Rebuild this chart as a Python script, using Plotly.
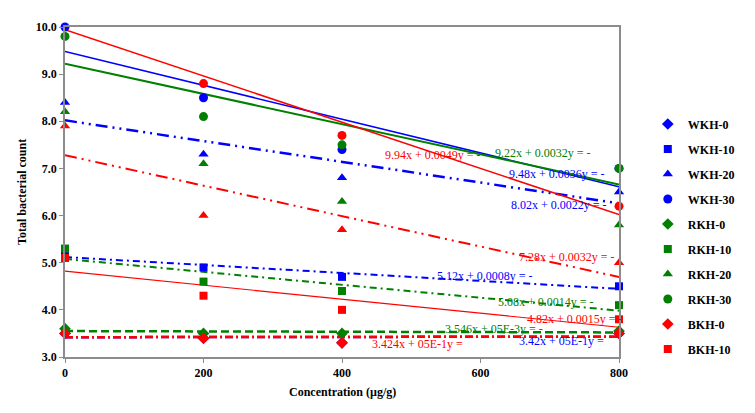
import numpy as np
import plotly.graph_objects as go

conc = [0, 200, 400, 800]

series_names = ["WKH-0", "WKH-10", "WKH-20", "WKH-30",
                "RKH-0", "RKH-10", "RKH-20", "RKH-30",
                "BKH-0", "BKH-10", "BKH-20", "BKH-30"]

wkh_0 = [3.5, 3.4, 3.3, 3.5]
wkh_10 = [5.2, 4.9, 4.7, 4.5]
wkh_20 = [8.4, 7.3, 6.8, 6.5]
wkh_30 = [10.0, 8.5, 7.4, 7.0]
rkh_0 = [3.6, 3.5, 3.5, 3.55]
rkh_10 = [5.3, 4.6, 4.4, 4.1]
rkh_20 = [8.2, 7.1, 6.3, 5.8]
rkh_30 = [9.8, 8.1, 7.5, 7.0]
bkh_0 = [3.5, 3.4, 3.3, 3.5]
bkh_10 = [5.1, 4.3, 4.0, 3.8]
bkh_20 = [7.9, 6.0, 5.7, 5.0]
bkh_30 = [10.2, 8.8, 7.7, 6.2]

values = [wkh_0, wkh_10, wkh_20, wkh_30, rkh_0, rkh_10, rkh_20, rkh_30,
          bkh_0, bkh_10, bkh_20, bkh_30]

y_ticks = [3, 4, 5, 6, 7, 8, 9, 10]
x_ticks = [0, 200, 400, 600, 800]

# trendline equation labels (as displayed)
eq_labels = ["9.94x + 0.0049y = -", "9.22x + 0.0032y = -", "9.48x + 0.0036y = -",
             "8.02x + 0.0022y = -", "7.28x + 0.0032y = -", "5.12x + 0.0008y = -",
             "5.08x + 0.0014y = -", "4.82x + 0.0015y = -", "3.546x + 05E-3y = -",
             "3.424x + 05E-1y =", "3.42x + 05E-1y ="]

BLUE = "#0000FF"
GREEN = "#008000"
RED = "#FF0000"

colors = [BLUE] * 4 + [GREEN] * 4 + [RED] * 4
symbols = ["diamond", "square", "triangle-up", "circle"] * 3
sym_size = {"diamond": 9, "square": 8, "triangle-up": 9, "circle": 9}
in_legend = [True] * 10 + [False, False]

trend_style = {
    "WKH-0": ("8px,3px,2px,3px", 2.5),
    "WKH-10": ("7px,4px,2px,4px", 2),
    "WKH-20": ("12px,5px,2px,5px,2px,5px", 2.5),
    "WKH-30": ("solid", 1.5),
    "RKH-0": ("8px,4px", 2.5),
    "RKH-10": ("7px,4px,2px,4px", 2),
    "RKH-30": ("solid", 2),
    "BKH-0": ("8px,3px,2px,3px", 2.5),
    "BKH-10": ("solid", 1.2),
    "BKH-20": ("12px,5px,2px,5px,2px,5px", 2),
    "BKH-30": ("solid", 1.5),
}

fig = go.Figure()

xs_line = np.array([conc[0], conc[-1]], dtype=float)
for name, vals, col in zip(series_names, values, colors):
    if name not in trend_style:
        continue
    slope, icpt = np.polyfit(conc, vals, 1)
    dash, w = trend_style[name]
    fig.add_trace(go.Scatter(x=xs_line, y=icpt + slope * xs_line, mode="lines",
                             line=dict(color=col, width=w, dash=dash),
                             showlegend=False, hoverinfo="skip"))

for name, vals, col, sym, leg in zip(series_names, values, colors, symbols, in_legend):
    fig.add_trace(go.Scatter(x=conc, y=vals, mode="markers", name=name,
                             marker=dict(color=col, symbol=sym, size=sym_size[sym]),
                             showlegend=leg, cliponaxis=False, legendgroup=name))

eq_pos = [(459, 7.28), (618, 7.33), (638, 6.88), (641, 6.23), (653, 5.13),
          (534, 4.71), (623, 4.17), (664, 3.81), (546, 3.60), (441, 3.28), (652, 3.33)]
eq_colors = [RED, GREEN, BLUE, BLUE, RED, BLUE, GREEN, RED, GREEN, RED, BLUE]
for txt, (ax, ay), c in zip(eq_labels, eq_pos, eq_colors):
    fig.add_annotation(x=ax, y=ay, text=txt, showarrow=False, xanchor="left", yanchor="middle",
                       font=dict(family="Liberation Serif", size=12, color=c))

title_font = dict(family="Liberation Serif", size=12, color="#000000", weight="bold")
fig.add_annotation(x=0.5, y=-0.1057, xref="paper", yref="paper", text="Concentration (µg/g)",
                   showarrow=False, xanchor="center", yanchor="middle", font=title_font)
fig.add_annotation(x=-0.0776, y=0.5, xref="paper", yref="paper", text="Total bacterial count",
                   showarrow=False, xanchor="center", yanchor="middle", textangle=-90, font=title_font)

fig.update_layout(
    width=747, height=405,
    margin=dict(l=57, r=136, t=15, b=56),
    paper_bgcolor="white", plot_bgcolor="white",
    font=dict(family="Liberation Serif", size=12, color="#000000"),
    xaxis=dict(range=[0, 800], tickvals=x_ticks, ticktext=[str(v) for v in x_ticks],
               showgrid=False, zeroline=False, showline=True, linecolor="#8c8c8c", linewidth=1.5,
               mirror=True, ticks="outside", ticklen=4, tickcolor="#8c8c8c",
               tickfont=dict(family="Liberation Serif", size=12, color="#000000", weight="bold")),
    yaxis=dict(range=[3, 10], tickvals=y_ticks, ticktext=[f"{v:.1f}" for v in y_ticks],
               showgrid=False, zeroline=False, showline=True, linecolor="#8c8c8c", linewidth=1.5,
               mirror=True, ticks="outside", ticklen=4, tickcolor="#8c8c8c",
               tickfont=dict(family="Liberation Serif", size=12, color="#000000", weight="bold")),
    legend=dict(x=1.052, xanchor="left", y=0.75, yanchor="top", traceorder="grouped",
                tracegroupgap=6, bgcolor="rgba(0,0,0,0)",
                font=dict(family="Liberation Serif", size=12, color="#000000", weight="bold")),
    showlegend=True,
)

fig.write_html("out.html")
